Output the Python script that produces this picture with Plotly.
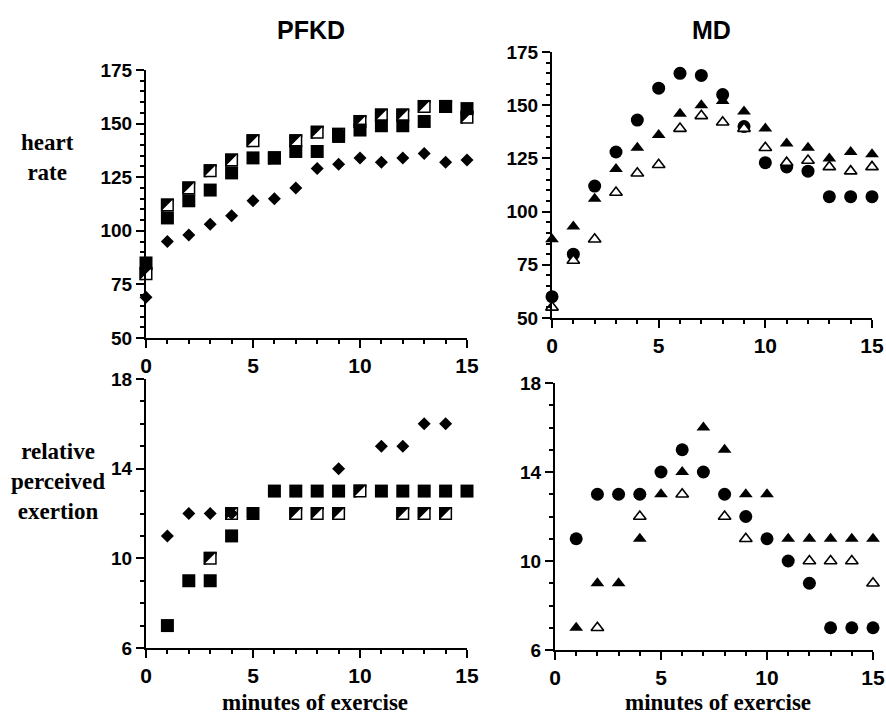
import plotly.graph_objects as go

# ── Data ──────────────────────────────────────────────────────────────────────

minutes_hr = list(range(16))
minutes_rpe = list(range(1, 16))

# PFKD heart rate
pfkd_hr_filled = [85, 106, 114, 119, 127, 134, 134, 137, 137, 144, 147, 149, 149, 151, 158, 157]
pfkd_hr_half = [80, 112, 120, 128, 133, 142, 134, 142, 146, 145, 151, 154, 154, 158, 158, 153]
pfkd_hr_diamond = [69, 95, 98, 103, 107, 114, 115, 120, 129, 131, 134, 132, 134, 136, 132, 133]

# MD heart rate
md_hr_circle = [60, 80, 112, 128, 143, 158, 165, 164, 155, 140, 123, 121, 119, 107, 107, 107]
md_hr_tri_filled = [87, 93, 106, 120, 130, 136, 146, 150, 152, 147, 139, 132, 130, 125, 128, 127]
md_hr_tri_open = [55, 77, 87, 109, 118, 122, 139, 145, 142, 139, 130, 123, 124, 121, 119, 121]

# PFKD relative perceived exertion
pfkd_rpe_filled = [7, 9, 9, 11, 12, 13, 13, 13, 13, None, 13, 13, 13, 13, 13]
pfkd_rpe_half = [None, None, 10, 12, None, None, 12, 12, 12, 13, None, 12, 12, 12, None]
pfkd_rpe_diamond = [11, 12, 12, 12, None, None, None, None, 14, None, 15, 15, 16, 16, None]

# MD relative perceived exertion
md_rpe_circle = [11, 13, 13, 13, 14, 15, 14, 13, 12, 11, 10, 9, 7, 7, 7]
md_rpe_tri_filled = [7, 9, 9, 11, 13, 14, 16, 15, 13, 13, 11, 11, 11, 11, 11]
md_rpe_tri_open = [None, 7, None, 12, None, 13, None, 12, 11, None, None, 10, 10, 10, 9]

hr_ticks = [50, 75, 100, 125, 150, 175]
rpe_ticks = [6, 10, 14, 18]
min_ticks = [0, 5, 10, 15]

W, H = 886, 714
SANS = "Liberation Sans, Arial, sans-serif"
SERIF = dict(family="Liberation Serif, Times New Roman, serif", size=23, color="black", weight="bold")


def px_x(v):
    return v / W


def px_y(v):
    return 1 - v / H


fig = go.Figure()


def add(x, y, ax, symbol, size, color="black", line_width=0, angle=0, standoff=0):
    n = "" if ax == 1 else str(ax)
    fig.add_trace(go.Scatter(
        x=x, y=y, mode="markers",
        xaxis="x" + n, yaxis="y" + n,
        marker=dict(symbol=symbol, size=size, color=color, angle=angle, standoff=standoff,
                    line=dict(color="black", width=line_width)),
        cliponaxis=False, showlegend=False, hoverinfo="skip",
    ))


def add_half(x, y, ax, size=13):
    # square with upper-left half black, lower-right half white:
    # a white diamond pushed to the lower-right corner, then the black border again
    inner = size / 2 - 1.5
    add(x, y, ax, "square", size)
    add(x, y, ax, "square", 2 * 2 ** 0.5 * inner, color="white", angle=315, standoff=2 ** 0.5 * inner)
    add(x, y, ax, "square-open", size - 1.5, line_width=1.5)


# top-left: PFKD heart rate
add_half(minutes_hr, pfkd_hr_half, 1)
add(minutes_hr, pfkd_hr_filled, 1, "square", 13)
add(minutes_hr, pfkd_hr_diamond, 1, "diamond", 10)

# top-right: MD heart rate
add(minutes_hr, md_hr_tri_filled, 2, "triangle-up", 12)
add(minutes_hr, md_hr_circle, 2, "circle", 13)
add(minutes_hr, md_hr_tri_open, 2, "triangle-up", 11, color="white", line_width=1.6)

# bottom-left: PFKD RPE
add(minutes_rpe, pfkd_rpe_filled, 3, "square", 13)
add_half(minutes_rpe, pfkd_rpe_half, 3)
add(minutes_rpe, pfkd_rpe_diamond, 3, "diamond", 10)

# bottom-right: MD RPE
add(minutes_rpe, md_rpe_tri_filled, 4, "triangle-up", 12)
add(minutes_rpe, md_rpe_circle, 4, "circle", 13)
add(minutes_rpe, md_rpe_tri_open, 4, "triangle-up", 11, color="white", line_width=1.6)


def xaxis(l, r, anchor):
    return dict(
        domain=[px_x(l), px_x(r)], anchor=anchor, range=[0, 15],
        tickvals=min_ticks, showgrid=False, zeroline=False, automargin=False,
        showline=True, linecolor="black", linewidth=2,
        ticks="outside", ticklen=8, tickwidth=2, tickcolor="black",
        minor=dict(dtick=1, ticks="outside", ticklen=4, tickwidth=1.5, tickcolor="black"),
        tickfont=dict(family=SANS, size=21, color="black", weight="bold"),
        ticklabeloverflow="allow", fixedrange=True,
    )


def yaxis(b, t, anchor, rng, vals, minor_dtick):
    return dict(
        domain=[px_y(b), px_y(t)], anchor=anchor, range=rng,
        tickvals=vals, showgrid=False, zeroline=False, automargin=False,
        showline=True, linecolor="black", linewidth=2,
        ticks="outside", ticklen=8, tickwidth=2, tickcolor="black",
        minor=dict(dtick=minor_dtick, tick0=rng[0], ticks="outside", ticklen=4,
                   tickwidth=1.5, tickcolor="black"),
        tickfont=dict(family=SANS, size=19, color="black", weight="bold"),
        fixedrange=True,
    )


fig.update_layout(
    template="none",
    width=W, height=H,
    paper_bgcolor="white", plot_bgcolor="white",
    margin=dict(l=0, r=0, t=0, b=0, pad=0),
    xaxis=xaxis(146, 467, "y"),
    yaxis=yaxis(338, 70, "x", [50, 175], hr_ticks, 5),
    xaxis2=xaxis(552, 872, "y2"),
    yaxis2=yaxis(318, 52, "x2", [50, 175], hr_ticks, 5),
    xaxis3=xaxis(146, 467, "y3"),
    yaxis3=yaxis(648, 379, "x3", [6, 18], rpe_ticks, 1),
    xaxis4=xaxis(555, 873, "y4"),
    yaxis4=yaxis(650, 383, "x4", [6, 18], rpe_ticks, 1),
)

annotations = [
    dict(text="PFKD", x=px_x(311), y=px_y(30),
         font=dict(family=SANS, size=25, color="black", weight="bold")),
    dict(text="MD", x=px_x(711), y=px_y(30),
         font=dict(family=SANS, size=25, color="black", weight="bold")),
    dict(text="heart<br>rate", x=px_x(47), y=px_y(157), font=SERIF),
    dict(text="relative<br>perceived<br>exertion", x=px_x(58), y=px_y(481), font=SERIF),
    dict(text="minutes of exercise", x=px_x(315), y=px_y(702), font=SERIF),
    dict(text="minutes of exercise", x=px_x(718), y=px_y(702), font=SERIF),
]
for a in annotations:
    a.update(xref="paper", yref="paper", showarrow=False, xanchor="center", yanchor="middle")
fig.update_layout(annotations=annotations)

fig.write_html(
    "out.html",
    config={"displayModeBar": False},
    post_script="document.body.style.margin='0';document.body.style.overflow='hidden';",
)
